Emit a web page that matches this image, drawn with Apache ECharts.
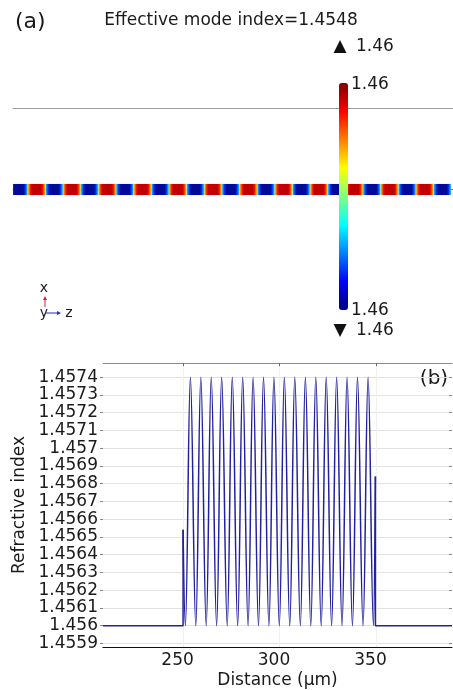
<!DOCTYPE html>
<html>
<head>
<meta charset="utf-8">
<script src="https://cdn.jsdelivr.net/npm/echarts@6/dist/echarts.min.js"></script>
<style>
  html, body { margin: 0; padding: 0; background: #fff; }
  #chart { width: 453px; height: 690px; }
</style>
</head>
<body>
<div id="chart"></div>
<script>
// (a) mode field along the core: one entry per half period (-1 = blue lobe, +1 = red lobe)
const stripCells = [-1, 1, -1, 1, -1, 1, -1, 1, -1, 1, -1, 1, -1, 1, -1, 1, -1, 1, -1, 1, -1, 1, -1, 1, -1];
const modeTitle = 'Effective mode index=1.4548';
const colorbarMaxLabel = '1.46';
const colorbarMinLabel = '1.46';

// (b) refractive index profile (distance in um)
const leadInZ = [208.5, 250.0, 250.0];
const leadInN = [1.4560, 1.4560, 1.45654];
const gratingZ = [250.0, 251.2, 253.8, 256.6, 259.2, 262.0, 264.6, 267.4, 270.0, 272.9,
  275.5, 278.3, 280.9, 283.7, 286.3, 289.1, 291.7, 294.5, 297.1, 299.9,
  302.5, 305.3, 307.9, 310.8, 313.4, 316.2, 318.8, 321.6, 324.2, 327.0,
  329.6, 332.4, 335.0, 337.8, 340.4, 343.3, 345.9, 348.7, 349.7];
const gratingN = [1.45654, 1.4560, 1.4574, 1.4560, 1.4574, 1.4560, 1.4574, 1.4560, 1.4574, 1.4560,
  1.4574, 1.4560, 1.4574, 1.4560, 1.4574, 1.4560, 1.4574, 1.4560, 1.4574, 1.4560,
  1.4574, 1.4560, 1.4574, 1.4560, 1.4574, 1.4560, 1.4574, 1.4560, 1.4574, 1.4560,
  1.4574, 1.4560, 1.4574, 1.4560, 1.4574, 1.4560, 1.4574, 1.4560, 1.45684];
const leadOutZ = [349.7, 349.7, 389.4];
const leadOutN = [1.45684, 1.4560, 1.4560];

const xTicks = [250, 300, 350];
const yTicks = [1.4559, 1.4560, 1.4561, 1.4562, 1.4563, 1.4564, 1.4565, 1.4566,
  1.4567, 1.4568, 1.4569, 1.4570, 1.4571, 1.4572, 1.4573, 1.4574];

const FONT = 'DejaVu Sans';
const TXT = '#1a1a1a';
const LINE = '#22229e';
const jet = ['#00007f', '#0000ff', '#007fff', '#00ffff', '#7fff7f', '#ffff00', '#ff7f00', '#ff0000', '#7f0000'];
const stripHalf = 0.068;

const pairs = (xs, ys) => xs.map((x, i) => [x, ys[i]]);

const chart = echarts.init(document.getElementById('chart'), null, { renderer: 'canvas' });

// colour across one lobe: jet mid-tone at the lobe edges, saturated core
function lobeGradient(v) {
  const core = v < 0 ? '#000a96' : '#c00000';
  const mid = v < 0 ? '#0030e8' : '#ee1800';
  const edge = v < 0 ? '#1aa0ff' : '#ff9a00';
  return new echarts.graphic.LinearGradient(0, 0, 1, 0, [
    { offset: 0, color: '#8fdc88' },
    { offset: 0.05, color: edge },
    { offset: 0.15, color: mid },
    { offset: 0.25, color: core },
    { offset: 0.75, color: core },
    { offset: 0.85, color: mid },
    { offset: 0.95, color: edge },
    { offset: 1, color: '#8fdc88' }
  ]);
}

const option = {
  animation: false,
  backgroundColor: '#fff',
  textStyle: { fontFamily: FONT },
  grid: [
    { left: 13, right: 0, top: 108, height: 163 },
    { left: 103, right: 1, top: 363, bottom: 43 }
  ],
  xAxis: [
    {
      gridIndex: 0, type: 'value', min: -0.34, max: 24.6, position: 'bottom',
      axisLine: { show: true, lineStyle: { color: '#777', width: 1 } },
      axisTick: { show: false }, axisLabel: { show: false }, splitLine: { show: false }
    },
    {
      gridIndex: 0, type: 'value', min: -0.34, max: 24.6, position: 'top',
      axisLine: { show: true, lineStyle: { color: '#9a9a9a', width: 1 } },
      axisTick: { show: false }, axisLabel: { show: false }, splitLine: { show: false }
    },
    {
      gridIndex: 1, type: 'value', min: 208.5, max: 389.4, position: 'bottom',
      axisLine: { show: true, lineStyle: { color: '#111', width: 1.2 } },
      axisTick: { show: false, customValues: xTicks },
      axisLabel: {
        customValues: xTicks, color: TXT, fontSize: 17, fontFamily: FONT,
        margin: 5, padding: [0, 11, 0, 0]
      },
      splitLine: { show: true, lineStyle: { color: '#f0f0f0', width: 1 } },
      name: 'Distance (µm)', nameLocation: 'middle', nameGap: 25,
      nameTextStyle: { color: TXT, fontSize: 17, fontFamily: FONT }
    },
    {
      gridIndex: 1, type: 'value', min: 208.5, max: 389.4, position: 'top',
      axisLine: { show: true, lineStyle: { color: '#8a8a8a', width: 1 } },
      axisTick: { show: true, inside: true, length: 3, customValues: xTicks, lineStyle: { color: '#666' } },
      axisLabel: { show: false }, splitLine: { show: false }
    }
  ],
  yAxis: [
    {
      gridIndex: 0, type: 'value', min: -1, max: 1, show: false
    },
    {
      gridIndex: 1, type: 'value', min: 1.45588, max: 1.45748, position: 'left',
      axisLine: { show: false },
      axisTick: { show: true, length: 3, customValues: yTicks, lineStyle: { color: '#888' } },
      axisLabel: {
        customValues: yTicks, color: TXT, fontSize: 17, fontFamily: FONT, margin: 5,
        formatter: v => String(+v.toFixed(4))
      },
      splitLine: { show: true, lineStyle: { color: '#e2e2e2', width: 1 } },
      name: 'Refractive index', nameLocation: 'middle', nameGap: 62,
      nameTextStyle: { color: TXT, fontSize: 17, fontFamily: FONT }
    },
    {
      gridIndex: 1, type: 'value', min: 1.45588, max: 1.45748, position: 'right',
      axisLine: { show: false },
      axisTick: { show: true, inside: true, length: 3, customValues: yTicks, lineStyle: { color: '#888' } },
      axisLabel: { show: false }, splitLine: { show: false }
    }
  ],
  visualMap: {
    type: 'continuous', min: -1, max: 1, seriesIndex: 0, dimension: 1,
    calculable: false, orient: 'vertical', left: 339, top: 83, padding: 0,
    itemWidth: 9, itemHeight: 227, inRange: { color: jet }, text: null
  },
  series: [
    {
      type: 'custom', xAxisIndex: 0, yAxisIndex: 0, clip: true,
      data: stripCells.map((v, i) => [i, v]),
      renderItem: (params, api) => {
        const i = api.value(0);
        const v = api.value(1);
        const p0 = api.coord([i - 0.5, stripHalf]);
        const p1 = api.coord([i + 0.5, -stripHalf]);
        return {
          type: 'rect',
          shape: { x: p0[0], y: p0[1], width: p1[0] - p0[0], height: p1[1] - p0[1] },
          style: { fill: lobeGradient(v) }
        };
      }
    },
    {
      type: 'line', xAxisIndex: 2, yAxisIndex: 1, symbol: 'none',
      data: pairs(leadInZ, leadInN),
      lineStyle: { color: LINE, width: 1.5 }
    },
    {
      type: 'line', xAxisIndex: 2, yAxisIndex: 1, symbol: 'none',
      smooth: 0.4, smoothMonotone: 'x',
      data: pairs(gratingZ, gratingN),
      lineStyle: { color: LINE, width: 1.5 }
    },
    {
      type: 'line', xAxisIndex: 2, yAxisIndex: 1, symbol: 'none',
      data: pairs(leadOutZ, leadOutN),
      lineStyle: { color: LINE, width: 1.5 }
    }
  ],
  graphic: [
    { type: 'text', left: 15, top: 11, style: { text: '(a)', fontSize: 22, fontFamily: FONT, fill: TXT } },
    { type: 'text', x: 231, y: 21, style: { text: modeTitle, fontSize: 17, fontFamily: FONT, fill: TXT, align: 'center', verticalAlign: 'middle' } },
    { type: 'text', x: 340, y: 47, style: { text: '▲', fontSize: 17, fontFamily: FONT, fill: '#111', align: 'center', verticalAlign: 'middle' } },
    { type: 'text', x: 356, y: 47, style: { text: colorbarMaxLabel, fontSize: 17, fontFamily: FONT, fill: TXT, verticalAlign: 'middle' } },
    { type: 'text', x: 351, y: 85, style: { text: colorbarMaxLabel, fontSize: 17, fontFamily: FONT, fill: TXT, verticalAlign: 'middle' } },
    { type: 'text', x: 351, y: 311, style: { text: colorbarMinLabel, fontSize: 17, fontFamily: FONT, fill: TXT, verticalAlign: 'middle' } },
    { type: 'text', x: 340, y: 331, style: { text: '▼', fontSize: 17, fontFamily: FONT, fill: '#111', align: 'center', verticalAlign: 'middle' } },
    { type: 'text', x: 356, y: 331, style: { text: colorbarMinLabel, fontSize: 17, fontFamily: FONT, fill: TXT, verticalAlign: 'middle' } },
    // coordinate triad
    { type: 'text', x: 44, y: 288, style: { text: 'x', fontSize: 14, fontFamily: FONT, fill: TXT, align: 'center', verticalAlign: 'middle' } },
    { type: 'line', shape: { x1: 45, y1: 307, x2: 45, y2: 298 }, style: { stroke: '#d0203a', lineWidth: 1 } },
    { type: 'polygon', shape: { points: [[43, 300], [47, 300], [45, 296]] }, style: { fill: '#d0203a' } },
    { type: 'text', x: 44, y: 313, style: { text: 'y', fontSize: 14, fontFamily: FONT, fill: TXT, align: 'center', verticalAlign: 'middle' } },
    { type: 'line', shape: { x1: 45, y1: 313, x2: 59, y2: 313 }, style: { stroke: '#2030c0', lineWidth: 1 } },
    { type: 'polygon', shape: { points: [[57, 311], [57, 315], [61, 313]] }, style: { fill: '#2030c0' } },
    { type: 'text', x: 69, y: 313, style: { text: 'z', fontSize: 14, fontFamily: FONT, fill: TXT, align: 'center', verticalAlign: 'middle' } },
    { type: 'text', x: 434, y: 379, style: { text: '(b)', fontSize: 20, fontFamily: FONT, fill: TXT, align: 'center', verticalAlign: 'middle' } }
  ]
};

chart.setOption(option);
window.addEventListener('resize', () => chart.resize());
</script>
</body>
</html>
